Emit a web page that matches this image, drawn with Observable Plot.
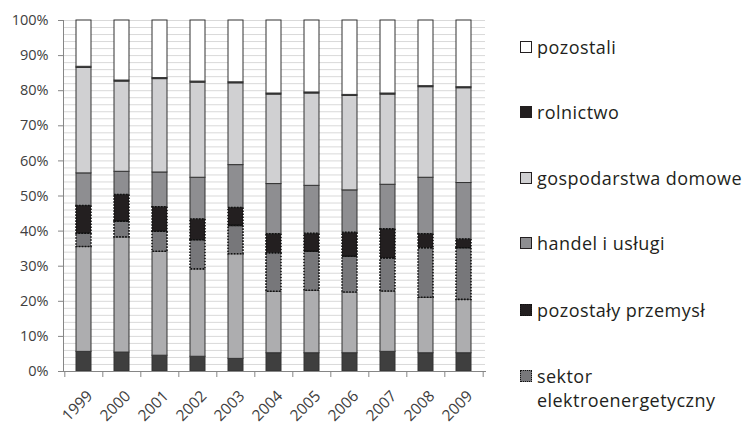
<!DOCTYPE html>
<html><head><meta charset="utf-8">
<script src="https://cdn.jsdelivr.net/npm/d3@7"></script>
<script src="https://cdn.jsdelivr.net/npm/@observablehq/plot@0.6"></script>
<style>
body{margin:0;background:#fff;}
#wrap{position:relative;width:745px;height:429px;font-family:"Open Sans",sans-serif;}
#wrap svg{position:absolute;left:0;top:0;}
#legend{position:absolute;left:520px;top:0;}
.item{position:absolute;left:0;display:flex;align-items:flex-start;white-space:nowrap;font-size:18px;letter-spacing:0.45px;line-height:24px;color:#231f20;}
.sw{flex:none;width:12px;height:12px;box-sizing:border-box;border:1px solid #231f20;margin-top:6px;margin-right:5px;}
</style></head><body><div id="wrap"><div id="legend"></div></div>
<script>
const years = ["1999","2000","2001","2002","2003","2004","2005","2006","2007","2008","2009"];
// series, bottom to top
const seriaA = [5.6,5.4,4.5,4.2,3.6,5.2,5.2,5.2,5.6,5.2,5.2];          // unnamed (not in legend)
const seriaB = [29.9,32.8,29.6,24.9,29.8,17.5,17.8,17.3,17.2,15.8,15.2]; // unnamed (not in legend)
const elektro = [3.8,4.5,5.7,8.3,8.1,11.0,11.1,10.2,9.4,14.1,14.7];
const przemysl = [7.9,7.6,7.0,5.9,5.1,5.4,5.1,6.8,8.3,4.0,2.5];
const handel = [9.3,6.6,9.9,11.9,12.2,14.3,13.7,12.1,12.7,16.1,16.1];
const gosp = [30.1,25.7,26.6,27.1,23.3,25.5,26.3,26.9,25.7,25.8,27.0];
const rolnictwo = [0.3,0.3,0.3,0.3,0.3,0.3,0.3,0.3,0.3,0.3,0.3];
const pozostali = [13.2,17.1,16.4,17.4,17.6,20.8,20.5,21.2,20.8,18.7,19.0];

const seriesNames = ["seria A","seria B","sektor elektroenergetyczny","pozostały przemysł","handel i usługi","gospodarstwa domowe","rolnictwo","pozostali"];
const seriesValues = [seriaA, seriaB, elektro, przemysl, handel, gosp, rolnictwo, pozostali];
const seriesColors = ["#3f3f3f","#adadaf","#77777a","#231f20","#8e8e91","#d0d0d2","#231f20","#ffffff"];
const dottedSeries = ["sektor elektroenergetyczny","pozostały przemysł"];
const legendSeries = ["pozostali","rolnictwo","gospodarstwa domowe","handel i usługi","pozostały przemysł","sektor elektroenergetyczny"];
const legendLabels = ["pozostali","rolnictwo","gospodarstwa domowe","handel i usługi","pozostały przemysł","sektor<br>elektroenergetyczny"];
const yTicks = d3.range(0, 11).map(i => i / 10);
const gridTicks = d3.range(0, 51).map(i => i / 50);

const data = [];
seriesNames.forEach((s, si) => years.forEach((y, yi) => data.push({year: y, series: s, value: seriesValues[si][yi]})));
const colorOf = s => seriesColors[seriesNames.indexOf(s)];

const W = 745, H = 429, mL = 63, mR = 260, mT = 20, mB = 58;
const step = (W - mL - mR) / years.length;
const stackOpts = {x: "year", y: "value", z: "series", order: seriesNames, offset: "normalize"};

const chart = Plot.plot({
  width: W, height: H,
  marginLeft: mL, marginRight: mR, marginTop: mT, marginBottom: mB,
  style: {fontFamily: "Open Sans", fontSize: "14px", color: "#404040", background: "transparent", overflow: "visible"},
  x: {domain: years, paddingInner: 0.6, paddingOuter: 0.3, axis: null},
  y: {domain: [0, 1], axis: null},
  marks: [
    Plot.ruleY(gridTicks, {y: d => d, stroke: "#d9d9d9", strokeWidth: 1}),
    Plot.barY(data, Plot.stackY({...stackOpts,
      fill: d => colorOf(d.series),
      stroke: d => dottedSeries.includes(d.series) ? "none" : "#333333",
      strokeWidth: 1})),
    Plot.barY(data, Plot.stackY({...stackOpts,
      fill: "none",
      stroke: d => dottedSeries.includes(d.series) ? "#111111" : "none",
      strokeWidth: 1.6, strokeDasharray: "1.6,1.4"})),
    Plot.frame({anchor: "left", stroke: "#868686"}),
    Plot.frame({anchor: "bottom", stroke: "#868686"}),
    Plot.axisY({ticks: yTicks, tickFormat: d3.format(".0%"), tickSize: 5, tickPadding: 10, stroke: "#868686", fill: "#404040", fontSize: 14.5, label: null}),
    Plot.ruleX(years, {x: d => d, dx: -step / 2, y1: 0, y2: 0, insetBottom: -6, stroke: "#868686"}),
    Plot.ruleX([years[years.length - 1]], {x: d => d, dx: step / 2, y1: 0, y2: 0, insetBottom: -6, stroke: "#868686"}),
    Plot.text(years, {x: d => d, y: 0, text: d => d, rotate: -45, textAnchor: "end", dx: 6, dy: 22, fontSize: 15.5, fill: "#404040"})
  ]
});
document.getElementById("wrap").prepend(chart);

const centers = [47, 112, 178, 243, 310, 376];
const legend = document.getElementById("legend");
legendSeries.forEach((s, i) => {
  const it = document.createElement("div");
  it.className = "item";
  it.style.top = (centers[i] - 12) + "px";
  const sw = document.createElement("span");
  sw.className = "sw";
  sw.style.background = colorOf(s);
  if (dottedSeries.includes(s)) sw.style.border = "1.5px dotted #111";
  const tx = document.createElement("span");
  tx.innerHTML = legendLabels[i];
  it.append(sw, tx);
  legend.append(it);
});
</script></body></html>
